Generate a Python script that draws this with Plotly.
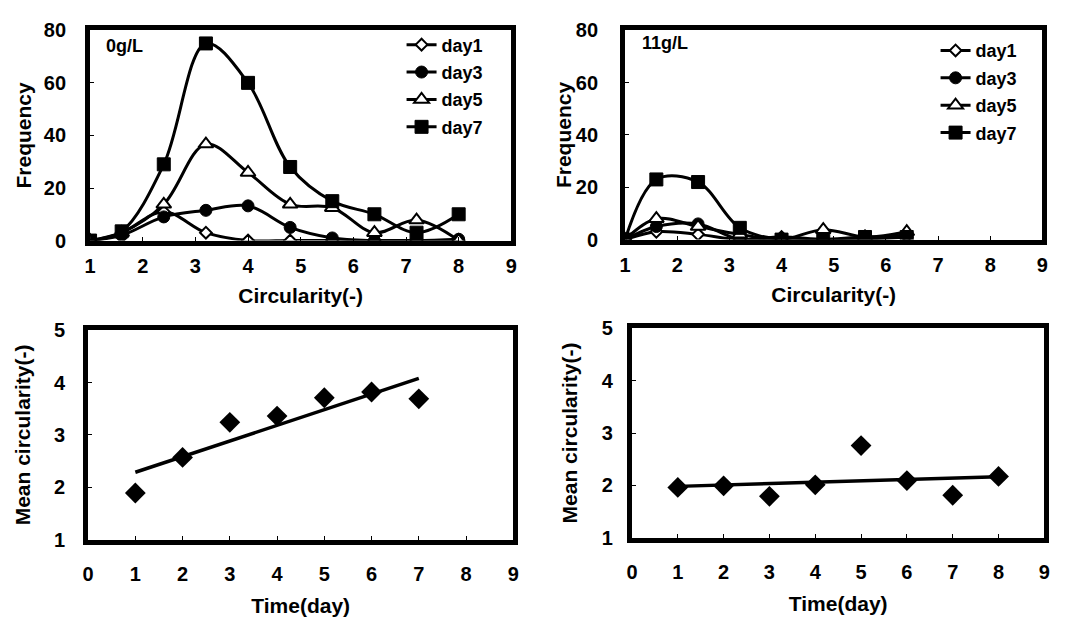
import numpy as np
import plotly.graph_objects as go

# ---------------- data ----------------
circ_0 = [1.0, 1.6, 2.4, 3.2, 4.0, 4.8, 5.6, 6.4, 7.2, 8.0]
f0_day1 = [0, 3, 11, 3, 0, 0, 0, 0, 0, 0]
f0_day3 = [0, 2, 9, 11.5, 13.2, 5, 1, 0, 0, 0.5]
f0_day5 = [0, 3, 13.8, 36.7, 25.9, 13.8, 12.5, 3, 7.8, 0]
f0_day7 = [0, 3.5, 29, 75, 60, 28, 15, 10, 3, 10]

circ_11 = [1.0, 1.6, 2.4, 3.2, 4.0, 4.8, 5.6, 6.4]
f11_day1 = [0, 3, 2, 0, 1, 0, 0, 1]
f11_day3 = [0, 5, 6, 0, 0, 0, 0, 2]
f11_day5 = [0, 8, 5, 2, 0, 3.8, 1, 3]
f11_day7 = [0, 23, 22, 4.5, 0, 0, 1, 1]

days_0 = [1, 2, 3, 4, 5, 6, 7]
mean_0 = [1.89, 2.57, 3.24, 3.36, 3.71, 3.82, 3.69]
days_11 = [1, 2, 3, 4, 5, 6, 7, 8]
mean_11 = [1.96, 1.99, 1.79, 2.01, 2.76, 2.09, 1.81, 2.17]

series_names = ["day1", "day3", "day5", "day7"]
x_ticks_top = [1, 2, 3, 4, 5, 6, 7, 8, 9]
y_ticks_top = [0, 20, 40, 60, 80]
x_ticks_bot = [0, 1, 2, 3, 4, 5, 6, 7, 8, 9]
y_ticks_bot = [1, 2, 3, 4, 5]

# ---------------- style ----------------
FONT = "Liberation Sans"
BLK = "black"
marker_styles = [
    dict(symbol="diamond", size=9, color="white", line=dict(color=BLK, width=2)),
    dict(symbol="circle", size=12, color=BLK, line=dict(color=BLK, width=1)),
    dict(symbol="triangle-up", size=13, color="white", line=dict(color=BLK, width=2)),
    dict(symbol="square", size=13, color=BLK, line=dict(color=BLK, width=1)),
]

fig = go.Figure()

def add_freq(xs, ys_list, xa, ya, legend):
    for name, ys, ms in zip(series_names, ys_list, marker_styles):
        fig.add_trace(go.Scatter(
            x=xs, y=ys, name=name, mode="lines+markers",
            line=dict(color=BLK, width=3, shape="spline", smoothing=1.0),
            marker=ms, xaxis=xa, yaxis=ya, legend=legend,
            legendgroup=name + legend,
        ))

add_freq(circ_0, [f0_day1, f0_day3, f0_day5, f0_day7], "x", "y", "legend")
add_freq(circ_11, [f11_day1, f11_day3, f11_day5, f11_day7], "x2", "y2", "legend2")

def add_mean(xs, ys, xa, ya):
    fig.add_trace(go.Scatter(
        x=xs, y=ys, mode="markers", showlegend=False,
        marker=dict(symbol="diamond", size=16, color=BLK),
        xaxis=xa, yaxis=ya,
    ))
    k, b = np.polyfit(xs, ys, 1)
    xl = [min(xs), max(xs)]
    fig.add_trace(go.Scatter(
        x=xl, y=[k * v + b for v in xl], mode="lines", showlegend=False,
        line=dict(color=BLK, width=3.5), xaxis=xa, yaxis=ya,
    ))

add_mean(days_0, mean_0, "x3", "y3")
add_mean(days_11, mean_11, "x4", "y4")

W, H = 1081, 621

def px_x(a, b):
    return [a / W, b / W]

def px_y(top, bot):
    return [1 - bot / H, 1 - top / H]

tickfont = dict(family=FONT, size=20, color=BLK, weight="bold")
titlefont = dict(family=FONT, size=21, color=BLK, weight="bold")

def ax(domain, anchor, rng, tickvals, title, label_standoff, title_standoff):
    return dict(
        domain=domain, anchor=anchor, range=rng, tickvals=tickvals,
        showgrid=False, zeroline=False, showline=True, mirror=True,
        linecolor=BLK, linewidth=5, ticks="inside", ticklen=4, tickwidth=1,
        tickcolor=BLK, tickfont=tickfont,
        ticklabelstandoff=label_standoff,
        title=dict(text=title, font=titlefont, standoff=title_standoff),
    )

fig.update_layout(
    width=W, height=H, margin=dict(l=0, r=0, t=0, b=0),
    paper_bgcolor="white", plot_bgcolor="white",
    xaxis=ax(px_x(85, 511), "y", [1, 9], x_ticks_top, "Circularity(-)", 3, 14),
    yaxis=ax(px_y(20, 238), "x", [0, 80], y_ticks_top, "Frequency", 15, 8),
    xaxis2=ax(px_x(626, 1048), "y2", [1, 9], x_ticks_top, "Circularity(-)", 3, 14),
    yaxis2=ax(px_y(20, 237), "x2", [0, 80], y_ticks_top, "Frequency", 18, 0),
    xaxis3=ax(px_x(83, 513), "y3", [0, 9], x_ticks_bot, "Time(day)", 12, 16),
    yaxis3=ax(px_y(331, 548), "x3", [1, 5], y_ticks_bot, "Mean circularity(-)", 14, 19),
    xaxis4=ax(px_x(633, 1050), "y4", [0, 9], x_ticks_bot, "Time(day)", 12, 16),
    yaxis4=ax(px_y(329, 546), "x4", [1, 5], y_ticks_bot, "Mean circularity(-)", 10, 20),
    legend=dict(x=400 / W, y=1 - 16 / H, xanchor="left", yanchor="top",
                font=dict(family=FONT, size=18, color=BLK, weight="bold"),
                bgcolor="rgba(0,0,0,0)", tracegroupgap=1, itemwidth=30),
    legend2=dict(x=940 / W, y=1 - 22 / H, xanchor="left", yanchor="top",
                 font=dict(family=FONT, size=18, color=BLK, weight="bold"),
                 bgcolor="rgba(0,0,0,0)", tracegroupgap=1, itemwidth=30),
    annotations=[
        dict(text="0g/L", x=99 / W, y=1 - 36 / H, xref="paper", yref="paper",
             xanchor="left", yanchor="middle", showarrow=False,
             font=dict(family=FONT, size=18, color=BLK, weight="bold")),
        dict(text="11g/L", x=641 / W, y=1 - 33 / H, xref="paper", yref="paper",
             xanchor="left", yanchor="middle", showarrow=False,
             font=dict(family=FONT, size=18, color=BLK, weight="bold")),
    ],
)

fig.write_html("out.html")
